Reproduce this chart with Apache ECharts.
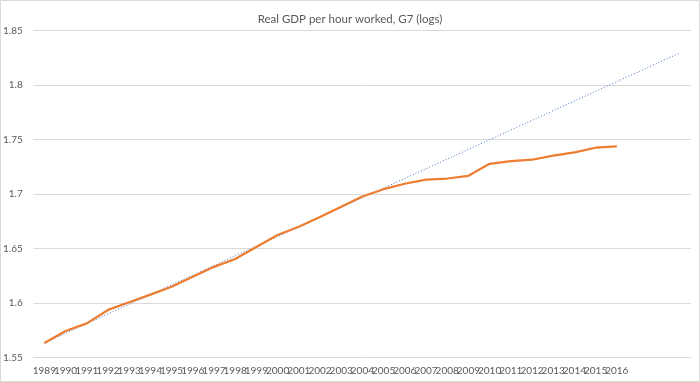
<!DOCTYPE html>
<html>
<head>
<meta charset="utf-8">
<script src="https://cdn.jsdelivr.net/npm/echarts@6/dist/echarts.min.js"></script>
<style>
html,body{margin:0;padding:0;background:#fff;}
#c{width:700px;height:382px;}
</style>
</head>
<body>
<div id="c"></div>
<script>
const titleText = "Real GDP per hour worked, G7 (logs)";
const years = ["1989","1990","1991","1992","1993","1994","1995","1996","1997","1998","1999","2000","2001","2002","2003","2004","2005","2006","2007","2008","2009","2010","2011","2012","2013","2014","2015","2016","","",""];
const gdpPerHour = [1.5635,1.5745,1.5815,1.5938,1.6008,1.6078,1.6150,1.6243,1.6333,1.6405,1.6515,1.6625,1.6700,1.6790,1.6885,1.6978,1.7045,1.7095,1.7133,1.7143,1.7168,1.7278,1.7303,1.7315,1.7352,1.7382,1.7425,1.7437];
const trendStart = [0, 1.5635];
const trendEnd = [30, 1.8297];
const yTicks = {min:1.55, max:1.85, interval:0.05};

const chart = echarts.init(document.getElementById('c'), null, {renderer:'canvas'});
chart.setOption({
  animation:false,
  backgroundColor:'#fff',
  textStyle:{fontFamily:'Lato'},
  title:{text:titleText,left:'center',top:8,textStyle:{fontFamily:'Lato',fontSize:11.5,fontWeight:'normal',color:'#595959'}},
  graphic:[{type:'rect',shape:{x:0.5,y:0.5,width:699,height:381},style:{fill:'none',stroke:'#D9D9D9',lineWidth:1},silent:true}],
  grid:{left:33,right:9,top:30.5,bottom:24.3,containLabel:false},
  xAxis:{type:'category',data:years,boundaryGap:true,
    axisLine:{show:true,lineStyle:{color:'#D9D9D9'}},axisTick:{show:false},
    axisLabel:{interval:0,fontFamily:'Lato',fontSize:10,color:'#595959',margin:8}},
  yAxis:{type:'value',min:yTicks.min,max:yTicks.max,interval:yTicks.interval,
    axisLine:{show:false},axisTick:{show:false},
    splitLine:{lineStyle:{color:'#D9D9D9',width:1}},
    axisLabel:{fontFamily:'Lato',fontSize:10,color:'#595959',margin:11}},
  series:[
    {type:'line',data:[trendStart,trendEnd],symbol:'none',lineStyle:{color:'#4472C4',width:1,type:[1,2]},z:1},
    {type:'line',data:gdpPerHour,symbol:'none',lineStyle:{color:'#ED7D31',width:2.25},z:2}
  ]
});
</script>
</body>
</html>
